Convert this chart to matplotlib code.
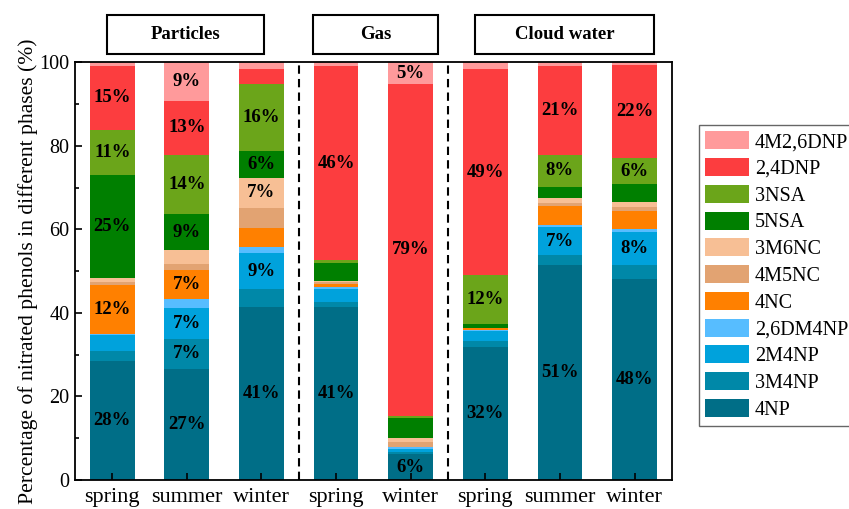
import matplotlib
matplotlib.use("Agg")
from matplotlib import pyplot as plt
from matplotlib.patches import Rectangle
import numpy as np

plt.rcParams['font.family'] = ['Liberation Serif', 'DejaVu Serif']

# x positions: particles (3 seasons), gas (2), cloud water (3)
seasons = ["spring", "summer", "winter", "spring", "winter", "spring", "summer", "winter"]
phases = ["Particles", "Gas", "Cloud water"]

# stacked from bottom (4NP) to top (4M2,6DNP), percent of total
species = ["4NP", "3M4NP", "2M4NP", "2,6DM4NP", "4NC", "4M5NC", "3M6NC",
           "5NSA", "3NSA", "2,4DNP", "4M2,6DNP"]
np4 = [28.4, 26.6, 41.4, 41.4, 6.2, 31.8, 51.4, 48.0]
m3np4 = [2.6, 7.2, 4.3, 1.2, 0.6, 1.4, 2.4, 3.4]
m2np4 = [3.6, 7.4, 8.6, 3.2, 0.7, 2.4, 6.8, 8.0]
dm26np4 = [0.4, 2.2, 1.4, 0.3, 0.3, 0.2, 0.4, 0.8]
nc4 = [11.8, 6.8, 4.6, 0.9, 0.1, 0.5, 4.6, 4.2]
m4nc5 = [0.6, 1.6, 4.9, 0.3, 1.2, 0.1, 0.8, 0.9]
m3nc6 = [1.0, 3.2, 7.2, 0.3, 1.0, 0.1, 1.0, 1.3]
nsa5 = [24.6, 8.6, 6.4, 4.4, 4.8, 0.9, 2.8, 4.2]
nsa3 = [10.8, 14.2, 16.0, 0.6, 0.5, 11.6, 7.6, 6.2]
dnp24 = [15.4, 13.0, 3.6, 46.4, 79.4, 49.4, 21.4, 22.4]
m4dnp26 = [0.8, 9.2, 1.6, 1.0, 5.2, 1.6, 0.8, 0.6]

data = [np4, m3np4, m2np4, dm26np4, nc4, m4nc5, m3nc6, nsa5, nsa3, dnp24, m4dnp26]
colors = ["#006E87", "#0088A8", "#00A2DC", "#57BDFF", "#FF8000", "#E2A372",
          "#F7BF95", "#007F00", "#6BA51A", "#FC3D3F", "#FF9A9B"]

fig = plt.figure(figsize=(8.49, 5.09), dpi=100)
ax = fig.add_axes([0.0883, 0.057, 0.703, 0.8206])

x = np.arange(len(seasons))
bottom = np.zeros(len(seasons))
handles = []
for name, vals, c in zip(species, data, colors):
    vals = np.array(vals)
    b = ax.bar(x, vals, 0.6, bottom=bottom, color=c, label=name, linewidth=0)
    handles.append(b)
    for xi, v, b0 in zip(x, vals, bottom):
        if v >= 5.0:
            ax.text(xi, b0 + v / 2, f"{round(v)}%", ha='center', va='center',
                    fontsize=13.5, fontweight='bold', color='black')
    bottom += vals

for xv in [2.5, 4.5]:
    ax.axvline(xv, color='black', linestyle=(0, (4, 2.5)), linewidth=1.5)

ax.set_xlim(-0.5, 7.5)
ax.set_ylim(0, 100)
ax.set_xticks(x)
ax.set_xticklabels(seasons, fontsize=16)
ax.set_yticks([0, 20, 40, 60, 80, 100])
ax.set_yticks([10, 30, 50, 70, 90], minor=True)
ax.tick_params(axis='y', which='major', direction='in', length=5, width=1.2, labelsize=14.5, pad=4)
ax.tick_params(axis='y', which='minor', direction='in', length=3, width=1.2)
ax.tick_params(axis='x', direction='in', length=5, width=1.2, pad=6)
for s in ax.spines.values():
    s.set_linewidth(1.3)
ax.set_ylabel("Percentage of nitrated phenols in different phases (%)", fontsize=15.6, labelpad=1)

# phase header boxes above the plot
boxes = [(0.126, 0.185), (0.3687, 0.147), (0.5595, 0.211)]
for (x0, w), name in zip(boxes, phases):
    fig.add_artist(Rectangle((x0, 0.894), w, 0.0766, transform=fig.transFigure,
                             facecolor='white', edgecolor='black', linewidth=1.5))
    fig.text(x0 + w / 2, 0.932, name, ha='center', va='center',
             fontsize=13.5, fontweight='bold')

leg = fig.legend(handles[::-1], species[::-1], loc='upper left',
                 bbox_to_anchor=(0.823, 0.754), borderaxespad=0, fontsize=14.5,
                 handlelength=2.2, handleheight=1.0, labelspacing=0.29,
                 handletextpad=0.3, borderpad=0.3, fancybox=False,
                 edgecolor='#666666', framealpha=1)
leg.get_frame().set_linewidth(1.0)

plt.savefig("out.png", dpi=100)
